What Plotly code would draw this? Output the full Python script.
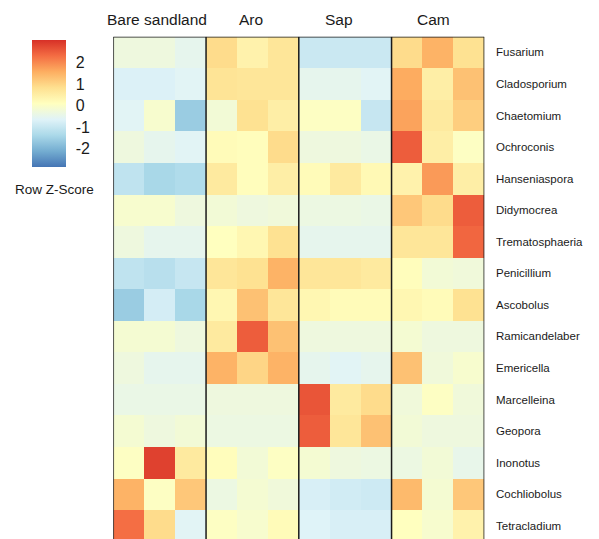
import plotly.graph_objects as go

# Fungal genera (rows) and sample groups (3 replicates each)
genera = [
    "Fusarium", "Cladosporium", "Chaetomium", "Ochroconis", "Hanseniaspora",
    "Didymocrea", "Trematosphaeria", "Penicillium", "Ascobolus", "Ramicandelaber",
    "Emericella", "Marcelleina", "Geopora", "Inonotus", "Cochliobolus", "Tetracladium",
]
groups = ["Bare sandland", "Aro", "Sap", "Cam"]
replicates = 3
samples = [f"{g} {i + 1}" for g in groups for i in range(replicates)]

# Row z-scores of relative abundance, columns: BS1-3, Aro1-3, Sap1-3, Cam1-3
bare_sandland = [
    [-0.3, -0.3, -0.5], [-0.7, -0.7, -0.6], [-0.6, -0.1, -1.6], [-0.3, -0.5, -0.6],
    [-1.1, -1.4, -1.3], [-0.1, -0.1, -0.3], [-0.3, -0.5, -0.5], [-1.1, -1.2, -1.0],
    [-1.6, -0.8, -1.4], [-0.15, -0.15, -0.3], [-0.3, -0.5, -0.5], [-0.4, -0.4, -0.4],
    [-0.15, -0.3, -0.2], [0.05, 2.85, 0.6], [1.5, 0.05, 1.2], [2.3, 0.9, -0.6],
]
aro = [
    [0.9, 0.4, 0.7], [0.75, 0.7, 0.7], [-0.2, 0.8, 0.5], [0.2, 0.15, 0.9],
    [0.6, 0.15, 0.5], [-0.2, -0.3, -0.25], [0.1, 0.3, 0.8], [0.7, 0.8, 1.5],
    [0.3, 1.3, 0.7], [0.6, 2.5, 1.3], [1.5, 1.0, 1.5], [-0.3, -0.3, -0.3],
    [-0.35, -0.35, -0.35], [0.15, -0.2, 0.05], [-0.35, -0.15, -0.25], [0.05, -0.1, 0.2],
]
sap = [
    [-0.95, -0.95, -0.95], [-0.5, -0.5, -0.6], [0.05, 0.05, -1.0], [-0.3, -0.3, -0.4],
    [0.2, 0.6, 0.25], [-0.35, -0.35, -0.4], [-0.5, -0.5, -0.5], [0.7, 0.7, 0.6],
    [0.3, 0.2, 0.2], [-0.3, -0.3, -0.3], [-0.5, -0.6, -0.5], [2.6, 0.6, 0.9],
    [2.5, 0.7, 1.3], [-0.15, -0.3, -0.35], [-0.75, -0.85, -0.9], [-0.65, -0.75, -0.75],
]
cam = [
    [0.9, 1.5, 0.8], [1.6, 0.5, 1.3], [1.7, 0.6, 1.1], [2.5, 0.5, 0.05],
    [0.4, 1.8, 0.5], [1.2, 0.9, 2.5], [0.7, 0.7, 2.4], [0.15, -0.2, -0.25],
    [0.3, 0.2, 0.8], [-0.15, -0.3, -0.3], [1.3, -0.25, -0.1], [-0.25, 0.05, -0.25],
    [-0.2, -0.3, -0.3], [-0.35, -0.2, -0.45], [1.4, -0.15, 1.2], [0.1, -0.1, 0.4],
]

z = [b + a + s + c for b, a, s, c in zip(bare_sandland, aro, sap, cam)]

colorbar_ticks = [-2, -1, 0, 1, 2]
z_min, z_max = -2.85, 3.05

rdylbu_r = ["#4575b4", "#74add1", "#abd9e9", "#e0f3f8", "#ffffbf",
            "#fee090", "#fdae61", "#f46d43", "#d73027"]
colorscale = [[i / (len(rdylbu_r) - 1), c] for i, c in enumerate(rdylbu_r)]

W, H = 599, 539
left_px, right_px, top_px = 113.3, 484.3, 36.7
n_rows = len(genera)
n_cols = len(samples)
y_bottom = 15.42

# Horizontal centres (px) of the group headers
header_px = [157, 250.5, 339, 433]

fig = go.Figure(go.Heatmap(
    z=z, x=samples, y=genera,
    zmin=z_min, zmax=z_max, colorscale=colorscale,
    xgap=0, ygap=0, hoverongaps=False,
    colorbar=dict(
        thickness=34, thicknessmode="pixels",
        len=127, lenmode="pixels",
        x=31.7 / W, xanchor="left",
        y=1 - 103.6 / H, yanchor="middle",
        xpad=0, ypad=0, outlinewidth=0,
        tickvals=colorbar_ticks, ticktext=[str(t) for t in colorbar_ticks],
        ticks="outside", ticklen=7, tickcolor="rgba(0,0,0,0)",
        tickfont=dict(size=16, color="#1a1a1a"),
    ),
))

fig.update_xaxes(domain=[left_px / W, right_px / W], range=[-0.5, n_cols - 0.5],
                 showticklabels=False, showgrid=False, zeroline=False)
fig.update_yaxes(domain=[0, 1 - top_px / H], range=[y_bottom, -0.5],
                 showticklabels=False, showgrid=False, zeroline=False)

# Group separators and frame
line_style = dict(color="#1a1a1a", width=1.5)
shapes = []
for k in range(1, len(groups)):
    xb = k * replicates - 0.5
    shapes.append(dict(type="line", xref="x", yref="y", x0=xb, x1=xb,
                       y0=-0.5, y1=y_bottom, line=line_style))
for xb in (-0.5, n_cols - 0.5):
    shapes.append(dict(type="line", xref="x", yref="y", x0=xb, x1=xb,
                       y0=-0.5, y1=y_bottom, line=line_style))
shapes.append(dict(type="line", xref="x", yref="y", x0=-0.5, x1=n_cols - 0.5,
                   y0=-0.5, y1=-0.5, line=line_style))

annotations = []
# Group headers
for g, xp in zip(groups, header_px):
    annotations.append(dict(text=g, x=xp / W, xref="paper", y=1 - 20 / H, yref="paper",
                            xanchor="center", yanchor="middle", showarrow=False,
                            font=dict(size=15.5, color="#1a1a1a")))
# Row labels
for i, name in enumerate(genera):
    annotations.append(dict(text=name, x=494 / W, xref="paper", y=i, yref="y",
                            xanchor="left", yanchor="middle", showarrow=False,
                            font=dict(size=11.5, color="#1a1a1a")))
# Color key title
annotations.append(dict(text="Row Z-Score", x=54.5 / W, xref="paper",
                        y=1 - 190 / H, yref="paper", xanchor="center",
                        yanchor="middle", showarrow=False,
                        font=dict(size=13.5, color="#1a1a1a")))

fig.update_layout(
    width=W, height=H,
    margin=dict(l=0, r=0, t=0, b=0),
    paper_bgcolor="white", plot_bgcolor="white",
    font=dict(family="Liberation Sans, Arial, sans-serif"),
    shapes=shapes, annotations=annotations,
    showlegend=False,
)

fig.write_html("out.html")
